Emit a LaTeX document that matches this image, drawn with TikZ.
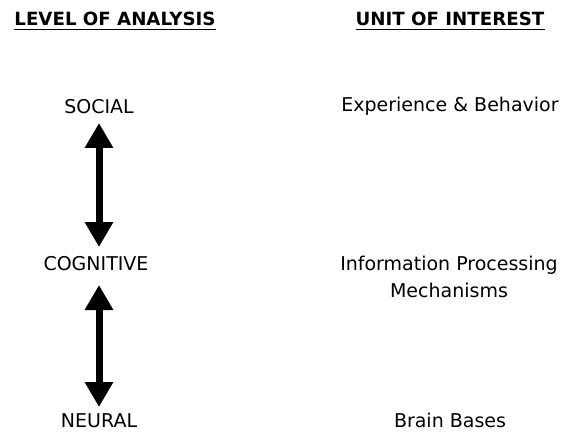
\documentclass[tikz,border=0pt]{standalone}
\usepackage{fontspec}
\setmainfont{DejaVu Sans}
\usetikzlibrary{arrows.meta}
\begin{document}
\begin{tikzpicture}[x=1pt,y=1pt,
  lbl/.style={inner sep=0pt, anchor=base, font=\fontsize{19}{27}\selectfont},
  head/.style={inner sep=0pt, anchor=base, font=\fontsize{18.2}{22}\selectfont\bfseries},
  dblarrow/.style={line width=7pt,
    {Triangle[width=27pt,length=25pt]}-{Triangle[width=27pt,length=25pt]}}]
  \useasboundingbox (0,0) rectangle (561,434);
  % column headings
  \node[head] (hl) at (115,408) {LEVEL OF ANALYSIS};
  \node[head] (hr) at (450,408) {UNIT OF INTEREST};
  \draw[line width=1.5pt] ([yshift=-3.5pt]hl.base west) -- ([yshift=-3.5pt]hl.base east);
  \draw[line width=1.5pt] ([yshift=-3.5pt]hr.base west) -- ([yshift=-3.5pt]hr.base east);
  % levels
  \node[lbl] (soc) at (99,320) {SOCIAL};
  \node[lbl] (cog) at (96,164) {COGNITIVE};
  \node[lbl] (neu) at (99,7) {NEURAL};
  % units
  \node[lbl] (exp) at (450,322) {Experience \& Behavior};
  \node[lbl, align=center, anchor=north] (inf) at (449,178) {Information Processing\\Mechanisms};
  \node[lbl] (brn) at (450,7) {Brain Bases};
  % links between levels
  \draw[dblarrow] (99,311) coordinate (a1) -- (99,187) coordinate (a2);
  \draw[dblarrow] (99,149) coordinate (b1) -- (99,27) coordinate (b2);
\end{tikzpicture}
\end{document}
